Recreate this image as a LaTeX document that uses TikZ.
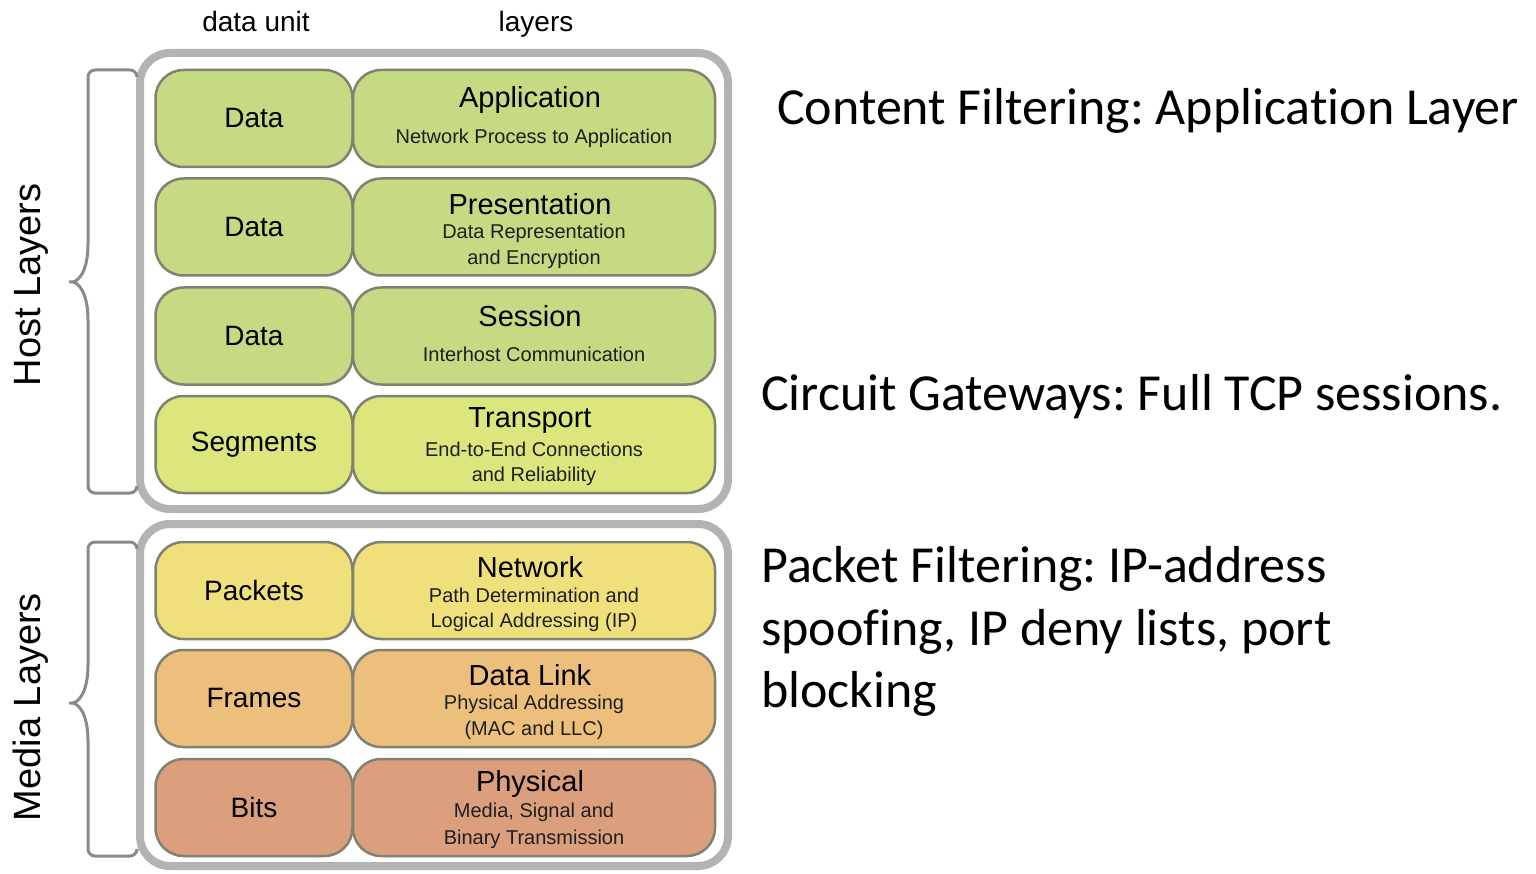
\documentclass[tikz,border=0pt]{standalone}
\usepackage{fontspec}
\setmainfont{Liberation Sans}
\newfontfamily\calib[Ligatures={NoCommon}]{Carlito}
\definecolor{cgreen}{HTML}{C5DA82}
\definecolor{cyg}{HTML}{DDE67D}
\definecolor{cyel}{HTML}{EFE07C}
\definecolor{corange}{HTML}{ECC07C}
\definecolor{cred}{HTML}{DC9F7D}
\definecolor{boxline}{HTML}{818170}
\definecolor{outerline}{HTML}{B3B3B3}
\definecolor{braceline}{HTML}{8A8A8A}
\newcommand{\fs}[1]{\fontsize{#1}{#1}\selectfont}
\frenchspacing
\tikzset{
  unitbox/.style={draw=boxline, line width=2.5pt, rounded corners=28pt, minimum width=197pt, minimum height=97pt, inner sep=0pt, font=\fs{28}},
  layerbox/.style={draw=boxline, line width=2.5pt, rounded corners=28pt, minimum width=362pt, minimum height=97pt, inner sep=0pt},
  outerbox/.style={draw=outerline, line width=8pt, rounded corners=30pt, inner sep=0pt},
  titletxt/.style={inner sep=0pt, font=\fs{29}, yshift=-3pt},
  subtxt/.style={inner sep=0pt, font=\fs{20}, text=black!88, align=center, yshift=-2pt},
  bracepath/.style={draw=braceline, line width=3pt, rounded corners=7pt},
  sidetxt/.style={inner sep=0pt, anchor=base west, font=\calib\fs{52}},
  headtxt/.style={inner sep=0pt, anchor=base, font=\fs{28}},
  vlabel/.style={inner sep=0pt, rotate=90, font=\fs{38}}
}
\begin{document}
\begin{tikzpicture}[x=1pt,y=-1pt]
\useasboundingbox[fill=white] (0,0) rectangle (1536,874);
% outer frames
\node[outerbox, minimum width=588pt, minimum height=456pt] (host) at (434,281) {};
\node[outerbox, minimum width=588pt, minimum height=342pt] (media) at (434,695) {};
% headers
\node[headtxt] (hdu) at (256,32) {data unit};
\node[headtxt] (hly) at (536,32) {layers};
% rows
\node[unitbox, fill=cgreen] (u7) at (254,118.5) {Data};
\node[layerbox, fill=cgreen] (l7) at (534,118.5) {};
\node[unitbox, fill=cgreen] (u6) at (254,227) {Data};
\node[layerbox, fill=cgreen] (l6) at (534,227) {};
\node[unitbox, fill=cgreen] (u5) at (254,336) {Data};
\node[layerbox, fill=cgreen] (l5) at (534,336) {};
\node[unitbox, fill=cyg] (u4) at (254,444.5) {Segments};
\node[layerbox, fill=cyg] (l4) at (534,444.5) {};
\node[unitbox, fill=cyel] (u3) at (254,590.5) {Packets};
\node[layerbox, fill=cyel] (l3) at (534,590.5) {};
\node[unitbox, fill=corange] (u2) at (254,698.5) {Frames};
\node[layerbox, fill=corange] (l2) at (534,698.5) {};
\node[unitbox, fill=cred] (u1) at (254,807.5) {Bits};
\node[layerbox, fill=cred] (l1) at (534,807.5) {};
% layer texts
\node[titletxt] (t7) at (530,97) {Application};
\node[subtxt] (s7) at (534,136) {Network Process to Application};
\node[titletxt] (t6) at (530,201) {Presentation};
\node[subtxt] (s6a) at (534,231) {Data Representation};
\node[subtxt] (s6b) at (534,257) {and Encryption};
\node[titletxt] (t5) at (530,313) {Session};
\node[subtxt] (s5) at (534,352) {Interhost Communication};
\node[titletxt] (t4) at (530,418) {Transport};
\node[subtxt] (s4a) at (534,447) {End-to-End Connections};
\node[subtxt] (s4b) at (534,474) {and Reliability};
\node[titletxt] (t3) at (530,564) {Network};
\node[subtxt] (s3a) at (534,593) {Path Determination and};
\node[subtxt] (s3b) at (534,620) {Logical Addressing (IP)};
\node[titletxt] (t2) at (530,672) {Data Link};
\node[subtxt] (s2a) at (534,702) {Physical Addressing};
\node[subtxt] (s2b) at (534,728) {(MAC and LLC)};
\node[titletxt] (t1) at (530,781) {Physical};
\node[subtxt] (s1a) at (534,810) {Media, Signal and};
\node[subtxt] (s1b) at (534,837) {Binary Transmission};
% braces
\path[bracepath] (137,76) |- (88,70) -- (88,237) .. controls (88,272) and (78,282) .. (65,282)
  .. controls (78,282) and (88,292) .. (88,327) |- (137,493) -- (137,487);
\path[bracepath] (137,548) |- (88,542) -- (88,658) .. controls (88,693) and (78,703) .. (65,703)
  .. controls (78,703) and (88,713) .. (88,748) |- (137,856) -- (137,850);
\node[vlabel] (hostlbl) at (31,285) {Host Layers};
\node[vlabel] (medialbl) at (31,707) {Media Layers};
% side texts
\node[sidetxt] (c1) at (777,125) {Content Filtering: Application Layer};
\node[sidetxt] (c2) at (761,410) {Circuit Gateways: Full TCP sessions.};
\node[sidetxt] (c3a) at (761,582) {Packet Filtering: IP-address};
\node[sidetxt] (c3b) at (761,645) {spoofing, IP deny lists, port};
\node[sidetxt] (c3c) at (761,707) {blocking};
\end{tikzpicture}
\end{document}
